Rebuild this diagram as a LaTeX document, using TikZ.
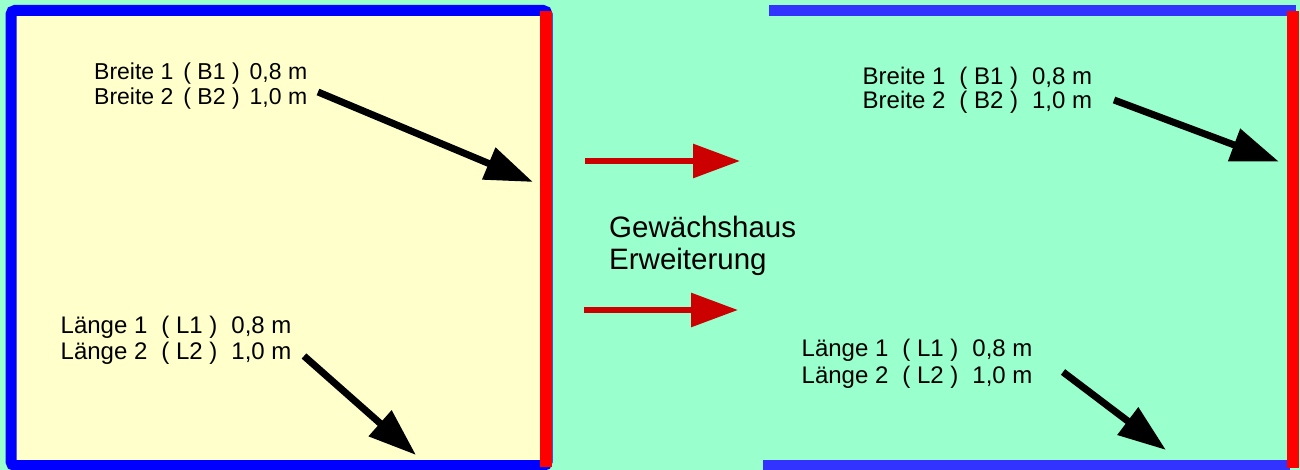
\documentclass[tikz,border=0pt]{standalone}
\usepackage{fontspec}
\setmainfont{Liberation Sans}
\usetikzlibrary{arrows.meta}
\definecolor{mint}{HTML}{99FFCC}
\definecolor{paleyellow}{HTML}{FFFFCC}
\definecolor{pureblue}{HTML}{0000FF}
\definecolor{softblue}{HTML}{3333FF}
\definecolor{edgered}{HTML}{FF0000}
\definecolor{darkred}{HTML}{CC0000}
\newcommand\gapA{\hspace{14pt}}
\newcommand\gapB{\hspace{10pt}}
\tikzset{
  lbl/.style={anchor=base west, inner sep=0pt, font=\fontsize{24}{28}\selectfont},
  lblsmall/.style={anchor=base west, inner sep=0pt, font=\fontsize{23}{27}\selectfont},
  lblbig/.style={anchor=base west, inner sep=0pt, font=\fontsize{29.5}{33}\selectfont},
  blackarrow/.style={draw=black, line width=7pt, -{Triangle[length=48pt,width=33pt]}},
  redarrow/.style={draw=darkred, line width=6pt, -{Triangle[length=47pt,width=33pt]}},
  redwall/.style={draw=edgered, line width=12pt},
  bluewall/.style={draw=softblue, line width=11pt}
}
\begin{document}
\begin{tikzpicture}[x=1pt,y=-1pt]
\useasboundingbox (0,0) rectangle (1300,470);
\fill[mint] (0,0) rectangle (1300,470);
% left room
\draw[draw=pureblue, fill=paleyellow, line width=11pt, rounded corners=4pt] (11,10.5) rectangle (547,465.5);
\draw[redwall] (546,11.5) -- (546,467);
% right room
\draw[bluewall] (769,11) -- (1296,11);
\draw[bluewall] (763,465) -- (1290,465);
\draw[redwall] (1293,11.5) -- (1293,468);
% labels left
\node[lblsmall] (b1l) at (94,79.3) {Breite 1\gapB( B1 )\gapB0,8 m};
\node[lblsmall] (b2l) at (94,105) {Breite 2\gapB( B2 )\gapB1,0 m};
\node[lbl] (l1l) at (60.5,333.3) {Länge 1\gapA( L1 )\gapA0,8 m};
\node[lbl] (l2l) at (60.5,359) {Länge 2\gapA( L2 )\gapA1,0 m};
% labels right
\node[lbl] (b1r) at (862.5,84.3) {Breite 1\gapA( B1 )\gapA0,8 m};
\node[lbl] (b2r) at (862.5,109) {Breite 2\gapA( B2 )\gapA1,0 m};
\node[lbl] (l1r) at (801.5,356.7) {Länge 1\gapA( L1 )\gapA0,8 m};
\node[lbl] (l2r) at (801.5,383) {Länge 2\gapA( L2 )\gapA1,0 m};
% middle label
\node[lblbig] (g1) at (609,237.3) {Gewächshaus};
\node[lblbig] (g2) at (609,269.5) {Erweiterung};
% arrow end points
\coordinate (a1s) at (318,92);
\coordinate (a1e) at (533,182);
\coordinate (a2s) at (304,356);
\coordinate (a2e) at (416,455);
\coordinate (a3s) at (1114,100);
\coordinate (a3e) at (1279,161.7);
\coordinate (a4s) at (1063,372);
\coordinate (a4e) at (1166,450);
\coordinate (r1s) at (585,161);
\coordinate (r1e) at (740,161);
\coordinate (r2s) at (584,310);
\coordinate (r2e) at (738,310);
\draw[blackarrow] (a1s) -- (a1e);
\draw[blackarrow] (a2s) -- (a2e);
\draw[blackarrow] (a3s) -- (a3e);
\draw[blackarrow] (a4s) -- (a4e);
\draw[redarrow] (r1s) -- (r1e);
\draw[redarrow] (r2s) -- (r2e);
\end{tikzpicture}
\end{document}
